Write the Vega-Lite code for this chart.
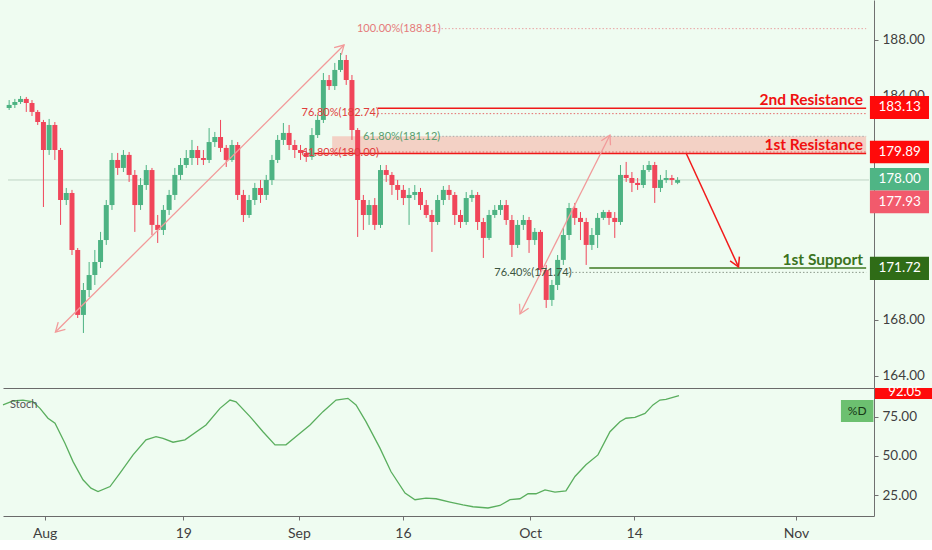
{
"$schema":"https://vega.github.io/schema/vega-lite/v6.json",
"background":"#effcf1",
"padding":0,
"spacing":0,
"bounds":"flush",
"config":{"view":{"stroke":null},"font":"Lato","axis":{"grid":false,"labelFont":"Lato","domainColor":"#707070","tickColor":"#707070","labelColor":"#3f3f3f"}},
"resolve":{"scale":{"y":"independent","x":"independent"}},
"datasets":{
"candles":[
{"t":-3.5,"o":183.14,"h":183.71,"l":183.0,"c":183.36},
{"t":-3.0,"o":183.36,"h":183.79,"l":183.14,"c":183.57},
{"t":-2.5,"o":183.57,"h":184.0,"l":183.43,"c":183.79},
{"t":-2.0,"o":183.79,"h":183.93,"l":182.86,"c":183.5},
{"t":-1.5,"o":183.5,"h":183.71,"l":182.57,"c":182.86},
{"t":-1.0,"o":182.86,"h":183.0,"l":181.93,"c":182.14},
{"t":-0.5,"o":182.14,"h":182.29,"l":176.07,"c":180.14},
{"t":0,"o":180.14,"h":182.36,"l":179.79,"c":181.93},
{"t":0.5,"o":181.93,"h":182.14,"l":179.43,"c":180.14},
{"t":1,"o":180.14,"h":180.29,"l":174.79,"c":176.57},
{"t":1.5,"o":176.57,"h":177.43,"l":176.21,"c":177.07},
{"t":2,"o":177.07,"h":177.29,"l":172.64,"c":173.0},
{"t":2.5,"o":173.0,"h":173.14,"l":168.14,"c":168.36},
{"t":3,"o":168.36,"h":170.64,"l":167.07,"c":170.14},
{"t":3.5,"o":170.14,"h":172.14,"l":169.64,"c":171.21},
{"t":4,"o":171.21,"h":173.0,"l":170.5,"c":172.14},
{"t":4.5,"o":172.14,"h":174.29,"l":171.71,"c":173.71},
{"t":5,"o":173.71,"h":176.57,"l":173.36,"c":176.21},
{"t":5.5,"o":176.21,"h":179.93,"l":175.86,"c":179.43},
{"t":6,"o":179.43,"h":179.93,"l":178.36,"c":178.86},
{"t":6.5,"o":178.86,"h":180.14,"l":178.57,"c":179.79},
{"t":7,"o":179.79,"h":180.0,"l":177.86,"c":178.36},
{"t":7.5,"o":178.36,"h":178.71,"l":174.29,"c":176.21},
{"t":8,"o":176.21,"h":178.14,"l":175.86,"c":177.64},
{"t":8.5,"o":177.64,"h":179.07,"l":177.29,"c":178.71},
{"t":9,"o":178.71,"h":178.86,"l":174.07,"c":174.79},
{"t":9.5,"o":174.79,"h":175.5,"l":173.5,"c":174.43},
{"t":10,"o":174.43,"h":176.21,"l":174.07,"c":175.86},
{"t":10.5,"o":175.86,"h":177.29,"l":175.5,"c":176.93},
{"t":11,"o":176.93,"h":178.86,"l":176.57,"c":178.36},
{"t":11.5,"o":178.36,"h":179.57,"l":178.0,"c":179.07},
{"t":12,"o":179.07,"h":180.14,"l":178.86,"c":179.57},
{"t":12.5,"o":179.57,"h":180.86,"l":179.07,"c":180.14},
{"t":13,"o":180.14,"h":180.43,"l":179.07,"c":179.57},
{"t":13.5,"o":179.57,"h":180.14,"l":179.07,"c":179.43},
{"t":14,"o":179.43,"h":181.71,"l":179.21,"c":180.71},
{"t":14.5,"o":180.71,"h":181.43,"l":180.36,"c":181.07},
{"t":15,"o":181.07,"h":182.29,"l":180.0,"c":180.29},
{"t":15.5,"o":180.29,"h":180.5,"l":178.93,"c":179.43},
{"t":16,"o":179.43,"h":180.86,"l":179.29,"c":180.5},
{"t":16.5,"o":180.5,"h":180.71,"l":176.57,"c":176.93},
{"t":17,"o":176.93,"h":177.29,"l":175.0,"c":175.5},
{"t":17.5,"o":175.5,"h":176.93,"l":175.29,"c":176.57},
{"t":18,"o":176.57,"h":177.79,"l":176.21,"c":177.43},
{"t":18.5,"o":177.43,"h":178.0,"l":176.36,"c":176.93},
{"t":19,"o":176.93,"h":178.36,"l":176.57,"c":178.0},
{"t":19.5,"o":178.0,"h":179.79,"l":177.64,"c":179.43},
{"t":20,"o":179.43,"h":181.21,"l":179.21,"c":180.86},
{"t":20.5,"o":180.86,"h":182.07,"l":180.5,"c":181.36},
{"t":21,"o":181.36,"h":181.93,"l":180.14,"c":180.5},
{"t":21.5,"o":180.5,"h":180.86,"l":179.57,"c":180.14},
{"t":22,"o":180.14,"h":180.5,"l":179.43,"c":179.93},
{"t":22.5,"o":179.93,"h":180.29,"l":179.29,"c":179.64},
{"t":23,"o":179.64,"h":181.71,"l":179.43,"c":181.21},
{"t":23.5,"o":181.21,"h":182.64,"l":181.0,"c":182.29},
{"t":24,"o":182.29,"h":185.64,"l":182.07,"c":185.14},
{"t":24.5,"o":185.14,"h":185.5,"l":184.43,"c":184.71},
{"t":25,"o":184.71,"h":186.36,"l":184.43,"c":185.86},
{"t":25.5,"o":185.86,"h":187.07,"l":185.71,"c":186.57},
{"t":26,"o":186.57,"h":186.93,"l":184.79,"c":185.14},
{"t":26.5,"o":185.14,"h":185.5,"l":180.86,"c":181.57},
{"t":27,"o":181.57,"h":181.71,"l":173.93,"c":176.57},
{"t":27.5,"o":176.57,"h":176.93,"l":174.43,"c":175.5},
{"t":28,"o":175.5,"h":176.57,"l":174.79,"c":176.21},
{"t":28.5,"o":176.21,"h":176.71,"l":174.43,"c":174.79},
{"t":29,"o":174.79,"h":179.07,"l":174.57,"c":178.71},
{"t":29.5,"o":178.71,"h":179.07,"l":177.86,"c":178.36},
{"t":30,"o":178.36,"h":178.57,"l":176.93,"c":177.64},
{"t":30.5,"o":177.64,"h":178.0,"l":176.57,"c":177.29},
{"t":31,"o":177.29,"h":177.64,"l":176.21,"c":176.71},
{"t":31.5,"o":176.71,"h":177.43,"l":174.79,"c":176.93},
{"t":32,"o":176.93,"h":177.64,"l":176.57,"c":177.14},
{"t":32.5,"o":177.14,"h":177.43,"l":175.86,"c":176.21},
{"t":33,"o":176.21,"h":176.57,"l":175.29,"c":175.5},
{"t":33.5,"o":175.5,"h":175.86,"l":172.86,"c":175.0},
{"t":34,"o":175.0,"h":176.93,"l":174.79,"c":176.57},
{"t":34.5,"o":176.57,"h":177.57,"l":176.21,"c":177.29},
{"t":35,"o":177.29,"h":177.64,"l":176.57,"c":176.93},
{"t":35.5,"o":176.93,"h":177.14,"l":174.79,"c":175.5},
{"t":36,"o":175.5,"h":175.86,"l":174.57,"c":175.0},
{"t":36.5,"o":175.0,"h":177.14,"l":174.79,"c":176.71},
{"t":37,"o":176.71,"h":177.29,"l":176.43,"c":176.93},
{"t":37.5,"o":176.93,"h":177.14,"l":174.43,"c":175.0},
{"t":38,"o":175.0,"h":175.29,"l":172.43,"c":173.86},
{"t":38.5,"o":173.86,"h":175.86,"l":173.71,"c":175.5},
{"t":39,"o":175.5,"h":176.21,"l":175.29,"c":175.86},
{"t":39.5,"o":175.86,"h":176.57,"l":175.5,"c":176.21},
{"t":40,"o":176.21,"h":176.57,"l":174.79,"c":175.14},
{"t":40.5,"o":175.14,"h":175.5,"l":172.5,"c":173.36},
{"t":41,"o":173.36,"h":175.14,"l":173.14,"c":174.79},
{"t":41.5,"o":174.79,"h":175.5,"l":174.43,"c":175.14},
{"t":42,"o":175.14,"h":175.36,"l":172.79,"c":173.71},
{"t":42.5,"o":173.71,"h":174.57,"l":173.36,"c":174.29},
{"t":43,"o":174.29,"h":174.43,"l":171.21,"c":171.57},
{"t":43.5,"o":171.57,"h":171.93,"l":168.86,"c":169.43},
{"t":44,"o":169.43,"h":170.86,"l":169.0,"c":170.5},
{"t":44.5,"o":170.5,"h":172.64,"l":170.14,"c":172.29},
{"t":45,"o":172.29,"h":174.57,"l":171.93,"c":174.07},
{"t":45.5,"o":174.07,"h":176.36,"l":173.71,"c":176.0},
{"t":46,"o":176.0,"h":176.36,"l":174.79,"c":175.29},
{"t":46.5,"o":175.29,"h":175.71,"l":173.71,"c":175.0},
{"t":47,"o":175.0,"h":175.29,"l":171.93,"c":173.36},
{"t":47.5,"o":173.36,"h":174.57,"l":173.0,"c":174.07},
{"t":48,"o":174.07,"h":175.64,"l":173.14,"c":175.29},
{"t":48.5,"o":175.29,"h":175.86,"l":175.14,"c":175.71},
{"t":49,"o":175.71,"h":175.86,"l":174.79,"c":175.29},
{"t":49.5,"o":175.29,"h":175.71,"l":173.86,"c":175.0},
{"t":50,"o":175.0,"h":179.07,"l":174.79,"c":178.36},
{"t":50.5,"o":178.36,"h":179.29,"l":177.86,"c":178.14},
{"t":51,"o":178.14,"h":178.57,"l":177.14,"c":177.79},
{"t":51.5,"o":177.79,"h":178.14,"l":177.29,"c":177.64},
{"t":52,"o":177.64,"h":179.07,"l":177.43,"c":178.71},
{"t":52.5,"o":178.71,"h":179.36,"l":178.57,"c":179.07},
{"t":53,"o":179.07,"h":179.29,"l":176.36,"c":177.43},
{"t":53.5,"o":177.43,"h":178.36,"l":177.14,"c":178.0},
{"t":54,"o":178.0,"h":178.71,"l":177.79,"c":178.14},
{"t":54.5,"o":178.14,"h":178.36,"l":177.64,"c":178.0},
{"t":55,"o":177.8,"h":178.2,"l":177.7,"c":178.0}
],
"stoch":[
{"t":-3.6,"k":82.5},{"t":-2.73,"k":85},{"t":-1.87,"k":85.6},{"t":-1.0,"k":84.5},{"t":-0.4,"k":80.3},{"t":0.29,"k":74},{"t":0.9,"k":70.8},{"t":1.76,"k":58},{"t":2.46,"k":46.3},{"t":3.32,"k":34.7},{"t":4.01,"k":29.4},{"t":4.62,"k":27.2},{"t":5.66,"k":30.4},{"t":6.52,"k":39},{"t":7.65,"k":50.6},{"t":8.77,"k":60.2},{"t":9.64,"k":62.3},{"t":10.24,"k":61.2},{"t":11.11,"k":58.7},{"t":12.14,"k":60.2},{"t":13.96,"k":69.7},{"t":15.17,"k":80.3},{"t":16.04,"k":85.6},{"t":16.56,"k":84.5},{"t":17.77,"k":75},{"t":18.89,"k":65.4},{"t":19.93,"k":57},{"t":20.88,"k":57},{"t":21.75,"k":62.3},{"t":22.96,"k":69.7},{"t":24.08,"k":78.2},{"t":25.21,"k":85.6},{"t":26.24,"k":86.7},{"t":26.94,"k":82.5},{"t":27.8,"k":71.8},{"t":29.01,"k":54.9},{"t":29.96,"k":40},{"t":31.18,"k":26.2},{"t":32.04,"k":22},{"t":32.99,"k":23},{"t":33.86,"k":22.6},{"t":35.07,"k":20.5},{"t":36.19,"k":18.7},{"t":37.06,"k":17.5},{"t":38.36,"k":16.7},{"t":39.39,"k":18.3},{"t":40.26,"k":22},{"t":41.12,"k":22.6},{"t":41.82,"k":25.8},{"t":42.51,"k":25.8},{"t":43.29,"k":28.3},{"t":44.15,"k":26.8},{"t":45.1,"k":27.7},{"t":45.88,"k":36.8},{"t":46.83,"k":44.3},{"t":47.87,"k":50.6},{"t":48.91,"k":65.4},{"t":49.77,"k":71.8},{"t":50.29,"k":74},{"t":51.07,"k":74.6},{"t":51.94,"k":77.1},{"t":52.63,"k":82.5},{"t":53.23,"k":85.6},{"t":53.75,"k":86},{"t":54.88,"k":88.4}
]
},
"vconcat":[
{
"width":871,"height":388,
"layer":[
{"data":{"values":[{"t0":24.77,"t1":71.5,"p0":179.89,"p1":181.12}]},
 "mark":{"type":"rect","color":"#f4c3b6","opacity":0.75},
 "encoding":{
  "x":{"field":"t0","type":"quantitative","title":null,"scale":{"domain":[-3.6,71.75],"nice":false,"zero":false},"axis":{"labels":false,"ticks":false,"domain":true,"domainColor":"#6a6a6a","title":null}},
  "x2":{"field":"t1"},
  "y":{"field":"p0","type":"quantitative","title":null,"scale":{"domain":[163.14,190.857],"nice":false,"zero":false},"axis":{"orient":"right","values":[164,168,184,188],"format":".2f","tickSize":4,"labelPadding":4,"labelFontSize":13.5,"title":null}},
  "y2":{"field":"p1"}}},
{"data":{"values":[{"t0":-3.6,"t1":71.75,"p":178}]},
 "mark":{"type":"rule","color":"#bfd4c4","strokeWidth":1},
 "encoding":{"x":{"field":"t0","type":"quantitative","title":null,"scale":{"domain":[-3.6,71.75],"nice":false,"zero":false}},"x2":{"field":"t1"},"y":{"field":"p","type":"quantitative","title":null,"scale":{"domain":[163.14,190.857],"nice":false,"zero":false}}}},
{"data":{"values":[{"t0":34.03,"t1":71.5,"p":188.81}]},
 "mark":{"type":"rule","color":"#e8a3a3","strokeWidth":1,"strokeDash":[1.5,2]},
 "encoding":{"x":{"field":"t0","type":"quantitative","title":null,"scale":{"domain":[-3.6,71.75],"nice":false,"zero":false}},"x2":{"field":"t1"},"y":{"field":"p","type":"quantitative","title":null,"scale":{"domain":[163.14,190.857],"nice":false,"zero":false}}}},
{"data":{"values":[{"t0":28.75,"t1":71.5,"p":182.74},{"t0":28.75,"t1":71.5,"p":180.0}]},
 "mark":{"type":"rule","color":"#e46a6a","strokeWidth":1,"strokeDash":[1.5,2]},
 "encoding":{"x":{"field":"t0","type":"quantitative","title":null,"scale":{"domain":[-3.6,71.75],"nice":false,"zero":false}},"x2":{"field":"t1"},"y":{"field":"p","type":"quantitative","title":null,"scale":{"domain":[163.14,190.857],"nice":false,"zero":false}}}},
{"data":{"values":[{"t0":34.1,"t1":71.5,"p":181.12}]},
 "mark":{"type":"rule","color":"#a8a8a8","strokeWidth":1,"strokeDash":[1.5,2]},
 "encoding":{"x":{"field":"t0","type":"quantitative","title":null,"scale":{"domain":[-3.6,71.75],"nice":false,"zero":false}},"x2":{"field":"t1"},"y":{"field":"p","type":"quantitative","title":null,"scale":{"domain":[163.14,190.857],"nice":false,"zero":false}}}},
{"data":{"values":[{"t0":45.45,"t1":71.5,"p":171.4}]},
 "mark":{"type":"rule","color":"#8a988a","strokeWidth":1,"strokeDash":[1.5,2]},
 "encoding":{"x":{"field":"t0","type":"quantitative","title":null,"scale":{"domain":[-3.6,71.75],"nice":false,"zero":false}},"x2":{"field":"t1"},"y":{"field":"p","type":"quantitative","title":null,"scale":{"domain":[163.14,190.857],"nice":false,"zero":false}}}},
{"data":{"values":[{"t0":28.75,"t1":71.5,"p":183.13},{"t0":22.6,"t1":71.5,"p":179.89}]},
 "mark":{"type":"rule","color":"#f01818","strokeWidth":1.5},
 "encoding":{"x":{"field":"t0","type":"quantitative","title":null,"scale":{"domain":[-3.6,71.75],"nice":false,"zero":false}},"x2":{"field":"t1"},"y":{"field":"p","type":"quantitative","title":null,"scale":{"domain":[163.14,190.857],"nice":false,"zero":false}}}},
{"data":{"values":[{"t0":47.27,"t1":71.5,"p":171.72}]},
 "mark":{"type":"rule","color":"#3f7a22","strokeWidth":1.5},
 "encoding":{"x":{"field":"t0","type":"quantitative","title":null,"scale":{"domain":[-3.6,71.75],"nice":false,"zero":false}},"x2":{"field":"t1"},"y":{"field":"p","type":"quantitative","title":null,"scale":{"domain":[163.14,190.857],"nice":false,"zero":false}}}},
{"data":{"name":"candles"},
 "mark":{"type":"rule","strokeWidth":1,"clip":true},
 "encoding":{"x":{"field":"t","type":"quantitative","title":null,"scale":{"domain":[-3.6,71.75],"nice":false,"zero":false}},"y":{"field":"l","type":"quantitative","title":null,"scale":{"domain":[163.14,190.857],"nice":false,"zero":false}},"y2":{"field":"h"},
  "color":{"condition":{"test":"datum.c >= datum.o","value":"#4db383"},"value":"#f0465a"}}},
{"data":{"name":"candles"},
 "mark":{"type":"bar","size":5,"clip":true},
 "encoding":{"x":{"field":"t","type":"quantitative","title":null,"scale":{"domain":[-3.6,71.75],"nice":false,"zero":false}},"y":{"field":"o","type":"quantitative","title":null,"scale":{"domain":[163.14,190.857],"nice":false,"zero":false}},"y2":{"field":"c"},
  "color":{"condition":{"test":"datum.c >= datum.o","value":"#4db383"},"value":"#f0465a"}}},
{"data":{"values":[{"a":1,"t":0.552,"p":167.14},{"a":1,"t":25.81,"p":187.64},{"a":2,"t":41.21,"p":168.43},{"a":2,"t":49.08,"p":181.21}]},
 "mark":{"type":"line","color":"#f29a9a","strokeWidth":1.3},
 "encoding":{"x":{"field":"t","type":"quantitative","title":null,"scale":{"domain":[-3.6,71.75],"nice":false,"zero":false}},"y":{"field":"p","type":"quantitative","title":null,"scale":{"domain":[163.14,190.857],"nice":false,"zero":false}},"detail":{"field":"a"}}},
{"data":{"values":[{"t":55.74,"p":179.93},{"t":60.33,"p":171.79}]},
 "mark":{"type":"line","color":"#f21b1b","strokeWidth":1.5},
 "encoding":{"x":{"field":"t","type":"quantitative","title":null,"scale":{"domain":[-3.6,71.75],"nice":false,"zero":false}},"y":{"field":"p","type":"quantitative","title":null,"scale":{"domain":[163.14,190.857],"nice":false,"zero":false}}}},
{"data":{"values":[{"t":0.552,"p":167.14}]},
 "mark":{"type":"point","shape":"M -0.5 0.87 L 0 0 L 0.5 0.87","filled":false,"size":420,"strokeWidth":1.3,"color":"#f29a9a","opacity":1,"angle":225.5},
 "encoding":{"x":{"field":"t","type":"quantitative","title":null,"scale":{"domain":[-3.6,71.75],"nice":false,"zero":false}},"y":{"field":"p","type":"quantitative","title":null,"scale":{"domain":[163.14,190.857],"nice":false,"zero":false}}}},
{"data":{"values":[{"t":25.81,"p":187.64}]},
 "mark":{"type":"point","shape":"M -0.5 0.87 L 0 0 L 0.5 0.87","filled":false,"size":420,"strokeWidth":1.3,"color":"#f29a9a","opacity":1,"angle":45.5},
 "encoding":{"x":{"field":"t","type":"quantitative","title":null,"scale":{"domain":[-3.6,71.75],"nice":false,"zero":false}},"y":{"field":"p","type":"quantitative","title":null,"scale":{"domain":[163.14,190.857],"nice":false,"zero":false}}}},
{"data":{"values":[{"t":41.21,"p":168.43}]},
 "mark":{"type":"point","shape":"M -0.5 0.87 L 0 0 L 0.5 0.87","filled":false,"size":420,"strokeWidth":1.3,"color":"#f29a9a","opacity":1,"angle":206.9},
 "encoding":{"x":{"field":"t","type":"quantitative","title":null,"scale":{"domain":[-3.6,71.75],"nice":false,"zero":false}},"y":{"field":"p","type":"quantitative","title":null,"scale":{"domain":[163.14,190.857],"nice":false,"zero":false}}}},
{"data":{"values":[{"t":49.08,"p":181.21}]},
 "mark":{"type":"point","shape":"M -0.5 0.87 L 0 0 L 0.5 0.87","filled":false,"size":420,"strokeWidth":1.3,"color":"#f29a9a","opacity":1,"angle":26.9},
 "encoding":{"x":{"field":"t","type":"quantitative","title":null,"scale":{"domain":[-3.6,71.75],"nice":false,"zero":false}},"y":{"field":"p","type":"quantitative","title":null,"scale":{"domain":[163.14,190.857],"nice":false,"zero":false}}}},
{"data":{"values":[{"t":60.33,"p":171.79}]},
 "mark":{"type":"point","shape":"M -0.5 0.87 L 0 0 L 0.5 0.87","filled":false,"size":420,"strokeWidth":1.5,"color":"#f21b1b","opacity":1,"angle":155.1},
 "encoding":{"x":{"field":"t","type":"quantitative","title":null,"scale":{"domain":[-3.6,71.75],"nice":false,"zero":false}},"y":{"field":"p","type":"quantitative","title":null,"scale":{"domain":[163.14,190.857],"nice":false,"zero":false}}}},
{"data":{"values":[{"t":26.94,"p":188.81,"label":"100.00%(188.81)"}]},
 "mark":{"type":"text","align":"left","baseline":"middle","font":"Lato","fontSize":11,"color":"#e57a7a"},
 "encoding":{"x":{"field":"t","type":"quantitative","title":null,"scale":{"domain":[-3.6,71.75],"nice":false,"zero":false}},"y":{"field":"p","type":"quantitative","title":null,"scale":{"domain":[163.14,190.857],"nice":false,"zero":false}},"text":{"field":"label"}}},
{"data":{"values":[{"t":22.09,"p":182.75,"label":"76.80%(182.74)"},{"t":22.09,"p":179.93,"label":"61.80%(180.00)"}]},
 "mark":{"type":"text","align":"left","baseline":"middle","font":"Lato","fontSize":11,"color":"#e03c3c"},
 "encoding":{"x":{"field":"t","type":"quantitative","title":null,"scale":{"domain":[-3.6,71.75],"nice":false,"zero":false}},"y":{"field":"p","type":"quantitative","title":null,"scale":{"domain":[163.14,190.857],"nice":false,"zero":false}},"text":{"field":"label"}}},
{"data":{"values":[{"t":27.46,"p":181.07,"label":"61.80%(181.12)"}]},
 "mark":{"type":"text","align":"left","baseline":"middle","font":"Lato","fontSize":11,"color":"#5a9e6f"},
 "encoding":{"x":{"field":"t","type":"quantitative","title":null,"scale":{"domain":[-3.6,71.75],"nice":false,"zero":false}},"y":{"field":"p","type":"quantitative","title":null,"scale":{"domain":[163.14,190.857],"nice":false,"zero":false}},"text":{"field":"label"}}},
{"data":{"values":[{"t":38.96,"p":171.36,"label":"76.40%(171.74)"}]},
 "mark":{"type":"text","align":"left","baseline":"middle","font":"Lato","fontSize":11,"color":"#3c553f"},
 "encoding":{"x":{"field":"t","type":"quantitative","title":null,"scale":{"domain":[-3.6,71.75],"nice":false,"zero":false}},"y":{"field":"p","type":"quantitative","title":null,"scale":{"domain":[163.14,190.857],"nice":false,"zero":false}},"text":{"field":"label"}}},
{"data":{"values":[{"t":71.23,"p":183.71,"label":"2nd Resistance"},{"t":71.23,"p":180.5,"label":"1st Resistance"}]},
 "mark":{"type":"text","align":"right","baseline":"middle","font":"Lato","fontSize":15.5,"fontWeight":"bold","color":"#f01010"},
 "encoding":{"x":{"field":"t","type":"quantitative","title":null,"scale":{"domain":[-3.6,71.75],"nice":false,"zero":false}},"y":{"field":"p","type":"quantitative","title":null,"scale":{"domain":[163.14,190.857],"nice":false,"zero":false}},"text":{"field":"label"}}},
{"data":{"values":[{"t":71.23,"p":172.29,"label":"1st Support"}]},
 "mark":{"type":"text","align":"right","baseline":"middle","font":"Lato","fontSize":15.5,"fontWeight":"bold","color":"#3a7320"},
 "encoding":{"x":{"field":"t","type":"quantitative","title":null,"scale":{"domain":[-3.6,71.75],"nice":false,"zero":false}},"y":{"field":"p","type":"quantitative","title":null,"scale":{"domain":[163.14,190.857],"nice":false,"zero":false}},"text":{"field":"label"}}},
{"data":{"values":[{"t0":71.83,"t1":77.0,"p0":182.36,"p1":184.0},{"t0":71.83,"t1":77.0,"p0":179.19,"p1":180.81}]},
 "mark":{"type":"rect","color":"#ff0a0a"},
 "encoding":{"x":{"field":"t0","type":"quantitative","title":null,"scale":{"domain":[-3.6,71.75],"nice":false,"zero":false}},"x2":{"field":"t1"},"y":{"field":"p0","type":"quantitative","title":null,"scale":{"domain":[163.14,190.857],"nice":false,"zero":false}},"y2":{"field":"p1"}}},
{"data":{"values":[{"t0":71.83,"t1":77.0,"p0":177.24,"p1":178.86}]},
 "mark":{"type":"rect","color":"#4fb585"},
 "encoding":{"x":{"field":"t0","type":"quantitative","title":null,"scale":{"domain":[-3.6,71.75],"nice":false,"zero":false}},"x2":{"field":"t1"},"y":{"field":"p0","type":"quantitative","title":null,"scale":{"domain":[163.14,190.857],"nice":false,"zero":false}},"y2":{"field":"p1"}}},
{"data":{"values":[{"t0":71.83,"t1":77.0,"p0":175.62,"p1":177.24}]},
 "mark":{"type":"rect","color":"#f25a6c"},
 "encoding":{"x":{"field":"t0","type":"quantitative","title":null,"scale":{"domain":[-3.6,71.75],"nice":false,"zero":false}},"x2":{"field":"t1"},"y":{"field":"p0","type":"quantitative","title":null,"scale":{"domain":[163.14,190.857],"nice":false,"zero":false}},"y2":{"field":"p1"}}},
{"data":{"values":[{"t0":71.83,"t1":77.0,"p0":170.86,"p1":172.52}]},
 "mark":{"type":"rect","color":"#2f6c17"},
 "encoding":{"x":{"field":"t0","type":"quantitative","title":null,"scale":{"domain":[-3.6,71.75],"nice":false,"zero":false}},"x2":{"field":"t1"},"y":{"field":"p0","type":"quantitative","title":null,"scale":{"domain":[163.14,190.857],"nice":false,"zero":false}},"y2":{"field":"p1"}}},
{"data":{"values":[{"t":74.43,"p":183.18,"label":"183.13"},{"t":74.43,"p":179.98,"label":"179.89"},{"t":74.43,"p":178.05,"label":"178.00"},{"t":74.43,"p":176.43,"label":"177.93"},{"t":74.43,"p":171.69,"label":"171.72"}]},
 "mark":{"type":"text","align":"center","baseline":"middle","font":"Lato","fontSize":13.5,"color":"#ffffff"},
 "encoding":{"x":{"field":"t","type":"quantitative","title":null,"scale":{"domain":[-3.6,71.75],"nice":false,"zero":false}},"y":{"field":"p","type":"quantitative","title":null,"scale":{"domain":[163.14,190.857],"nice":false,"zero":false}},"text":{"field":"label"}}}
]
},
{
"width":871,"height":128,
"layer":[
{"data":{"name":"stoch"},
 "mark":{"type":"line","color":"#5aae5e","strokeWidth":1.3},
 "encoding":{
  "x":{"field":"t","type":"quantitative","title":null,"scale":{"domain":[-3.6,71.75],"nice":false,"zero":false},"axis":{"values":[0,12,22,31,42,51,65],"labelExpr":"datum.value==0?'Aug':datum.value==12?'19':datum.value==22?'Sep':datum.value==31?'16':datum.value==42?'Oct':datum.value==51?'14':'Nov'","tickSize":4,"labelPadding":6,"labelFontSize":14,"domainColor":"#6a6a6a","title":null}},
  "y":{"field":"k","type":"quantitative","title":null,"scale":{"domain":[11.6,93.3],"nice":false,"zero":false},"axis":{"orient":"right","values":[25,50,75],"format":".2f","tickSize":4,"labelPadding":4,"labelFontSize":13.5,"title":null}}}},
{"data":{"values":[{"t":-2.99,"k":82.5,"label":"Stoch"}]},
 "mark":{"type":"text","align":"left","baseline":"middle","font":"Lato","fontSize":11,"color":"#555555"},
 "encoding":{"x":{"field":"t","type":"quantitative","title":null,"scale":{"domain":[-3.6,71.75],"nice":false,"zero":false}},"y":{"field":"k","type":"quantitative","title":null,"scale":{"domain":[11.6,93.3],"nice":false,"zero":false}},"text":{"field":"label"}}},
{"data":{"values":[{"t0":68.89,"t1":71.7,"k0":71.6,"k1":85.6}]},
 "mark":{"type":"rect","color":"#6cc070"},
 "encoding":{"x":{"field":"t0","type":"quantitative","title":null,"scale":{"domain":[-3.6,71.75],"nice":false,"zero":false}},"x2":{"field":"t1"},"y":{"field":"k0","type":"quantitative","title":null,"scale":{"domain":[11.6,93.3],"nice":false,"zero":false}},"y2":{"field":"k1"}}},
{"data":{"values":[{"t0":71.83,"t1":77.0,"k0":86.3,"k1":93.3}]},
 "mark":{"type":"rect","color":"#ff0a0a"},
 "encoding":{"x":{"field":"t0","type":"quantitative","title":null,"scale":{"domain":[-3.6,71.75],"nice":false,"zero":false}},"x2":{"field":"t1"},"y":{"field":"k0","type":"quantitative","title":null,"scale":{"domain":[11.6,93.3],"nice":false,"zero":false}},"y2":{"field":"k1"}}},
{"data":{"values":[{"t":70.3,"k":78.6,"label":"%D"}]},
 "mark":{"type":"text","align":"center","baseline":"middle","font":"Lato","fontSize":12,"color":"#173817"},
 "encoding":{"x":{"field":"t","type":"quantitative","title":null,"scale":{"domain":[-3.6,71.75],"nice":false,"zero":false}},"y":{"field":"k","type":"quantitative","title":null,"scale":{"domain":[11.6,93.3],"nice":false,"zero":false}},"text":{"field":"label"}}},
{"data":{"values":[{"t":74.43,"k":91.0,"label":"92.05"}]},
 "mark":{"type":"text","align":"center","baseline":"middle","font":"Lato","fontSize":13,"color":"#ffffff"},
 "encoding":{"x":{"field":"t","type":"quantitative","title":null,"scale":{"domain":[-3.6,71.75],"nice":false,"zero":false}},"y":{"field":"k","type":"quantitative","title":null,"scale":{"domain":[11.6,93.3],"nice":false,"zero":false}},"text":{"field":"label"}}}
]
}
]
}
